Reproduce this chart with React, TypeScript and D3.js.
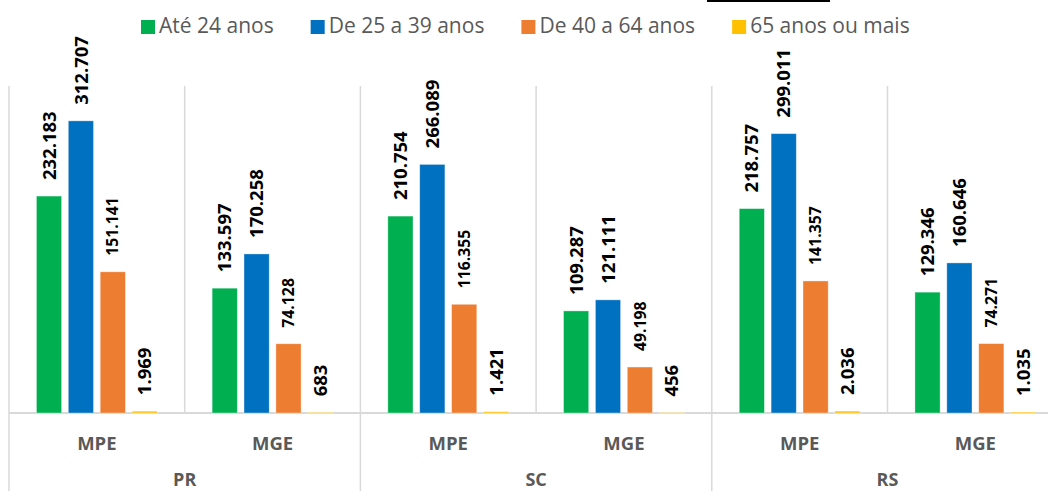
import { formatLocale, range, scaleBand, scaleLinear } from 'd3';

const states = ['PR', 'SC', 'RS'];
const sizes = ['MPE', 'MGE'];
const seriesNames = ['Até 24 anos', 'De 25 a 39 anos', 'De 40 a 64 anos', '65 anos ou mais'];
const seriesColors = ['#00B050', '#0070C0', '#ED7D31', '#FFC000'];

// values per category: PR-MPE, PR-MGE, SC-MPE, SC-MGE, RS-MPE, RS-MGE
const ate24 = [232183, 133597, 210754, 109287, 218757, 129346];
const de25a39 = [312707, 170258, 266089, 121111, 299011, 160646];
const de40a64 = [151141, 74128, 116355, 49198, 141357, 74271];
const mais65 = [1969, 683, 1421, 456, 2036, 1035];

const seriesValues = [ate24, de25a39, de40a64, mais65];
const yMaxValue = 350000;

const width = 1048;
const height = 491;
const plot = { left: 9, top: 86, bottom: 413, catWidth: 175.7 };
const font = '"Open Sans", "DejaVu Sans", sans-serif';
const grid = '#D9D9D9';
const textGray = '#595959';

const ptBR = formatLocale({ decimal: ',', thousands: '.', grouping: [3], currency: ['R$', ''] });
const fmt = ptBR.format(',d');

function measure(text: string, size: number, weight = 'normal') {
  const canvas = document.createElement('canvas');
  const ctx = canvas.getContext('2d');
  if (!ctx) return text.length * size * 0.5;
  ctx.font = `${weight} ${size}px "Open Sans"`;
  return ctx.measureText(text).width;
}

export default function App() {
  const categories = range(states.length * sizes.length);
  const xCat = scaleBand<number>()
    .domain(categories)
    .range([plot.left, plot.left + plot.catWidth * categories.length])
    .padding(0);

  const xBar = scaleBand<number>()
    .domain(range(seriesNames.length))
    .range([0, xCat.bandwidth()])
    .paddingInner(0.21)
    .paddingOuter(0.86);

  const y = scaleLinear().domain([0, yMaxValue]).range([plot.bottom, plot.top]);

  // legend layout
  const legendSize = 21;
  let lx = 141;
  const legendItems = seriesNames.map((name, i) => {
    const item = { name, color: seriesColors[i], x: lx };
    lx += 18 + measure(name, legendSize) + 37;
    return item;
  });

  const stateWidth = xCat.bandwidth() * sizes.length;

  return (
    <div style={{ position: 'absolute', left: 0, top: 0, background: '#fff' }}>
      <svg width={width} height={height} viewBox={`0 0 ${width} ${height}`} style={{ display: 'block', fontFamily: font }}>
        <rect width={width} height={height} fill="#fff" />
        <rect x={707} y={0} width={123} height={2} fill="#000" />

        {/* legend */}
        {legendItems.map(item => (
          <g key={item.name}>
            <rect x={item.x} y={20} width={14} height={14} fill={item.color} />
            <text x={item.x + 18} y={33} fontSize={legendSize} fill={textGray}>{item.name}</text>
          </g>
        ))}

        {/* vertical gridlines at category boundaries */}
        {categories.map(c => (
          <line key={`g${c}`} x1={xCat(c)!} x2={xCat(c)!} y1={plot.top} y2={plot.bottom} stroke={grid} strokeWidth={1.5} />
        ))}

        {/* axis line */}
        <line x1={plot.left} x2={width} y1={plot.bottom} y2={plot.bottom} stroke={grid} strokeWidth={2} />

        {/* state separators below axis */}
        {states.map((s, i) => (
          <line key={`s${s}`} x1={plot.left + i * stateWidth} x2={plot.left + i * stateWidth} y1={plot.bottom} y2={height} stroke={grid} strokeWidth={1.5} />
        ))}

        {/* bars */}
        {seriesValues.map((values, si) =>
          values.map((v, ci) => {
            const x = xCat(ci)! + xBar(si)!;
            return (
              <rect key={`b${si}-${ci}`} x={x} y={y(v)} width={xBar.bandwidth()} height={plot.bottom - y(v)}
                fill={seriesColors[si]} stroke="#fff" strokeOpacity={0.45} strokeWidth={0.8} />
            );
          })
        )}

        {/* data labels */}
        {seriesValues.map((values, si) =>
          values.map((v, ci) => {
            const fs = si === 2 ? 15.8 : 18.5;
            const cx = xCat(ci)! + xBar(si)! + xBar.bandwidth() / 2;
            const ty = y(v) - 16;
            return (
              <text key={`l${si}-${ci}`} transform={`translate(${cx + fs * 0.357},${ty}) rotate(-90)`}
                fontSize={fs} fontWeight={700} fill="#000">{fmt(v)}</text>
            );
          })
        )}

        {/* category labels */}
        {categories.map(c => (
          <text key={`c${c}`} x={xCat(c)! + xCat.bandwidth() / 2} y={450} textAnchor="middle"
            fontSize={18.5} fontWeight={700} fill={textGray}>{sizes[c % sizes.length]}</text>
        ))}
        {states.map((s, i) => (
          <text key={`t${s}`} x={plot.left + i * stateWidth + stateWidth / 2} y={486} textAnchor="middle"
            fontSize={18} fontWeight={700} fill={textGray}>{s}</text>
        ))}
      </svg>
    </div>
  );
}
